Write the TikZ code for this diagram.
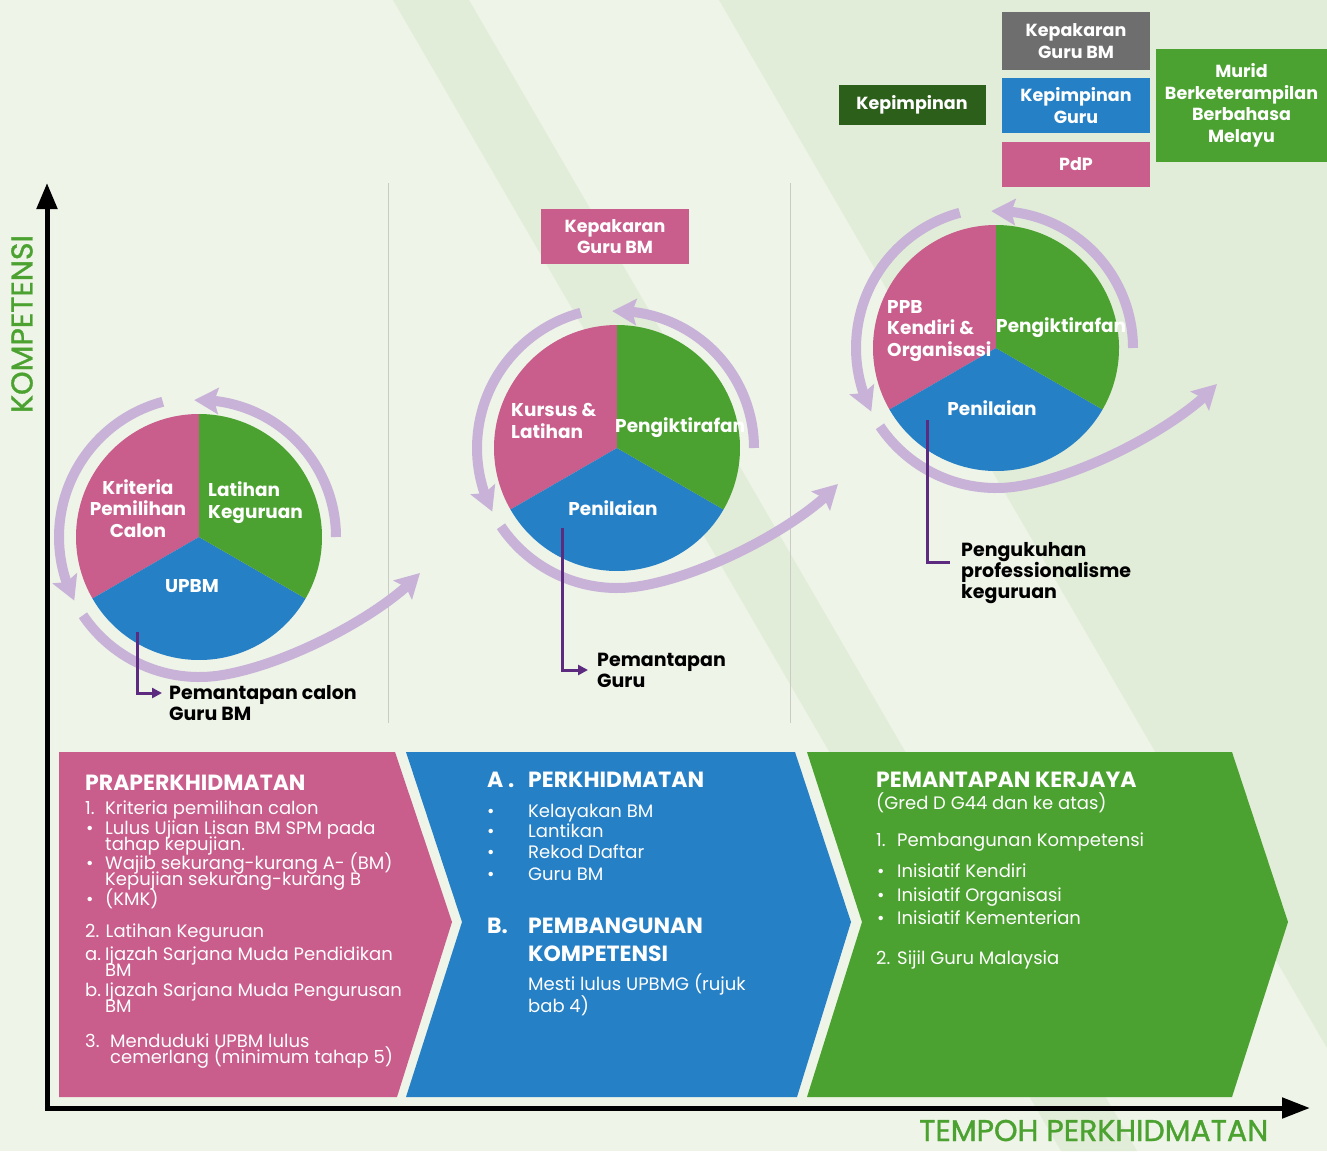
\documentclass[tikz,border=0pt]{standalone}
\usepackage{fontspec}
\setmainfont{Poppins}
\newfontfamily\axisfont[FakeBold=1.2]{Poppins}
\usetikzlibrary{arrows.meta, bending, positioning}
\definecolor{bgbase}{HTML}{EEF4E8}
\definecolor{bgband}{HTML}{E1EDD8}
\definecolor{pinkbm}{HTML}{C95D8C}
\definecolor{bluebm}{HTML}{2680C5}
\definecolor{greenbm}{HTML}{4CA230}
\definecolor{darkgreenbm}{HTML}{2C5F1A}
\definecolor{graybm}{HTML}{6E6E6E}
\definecolor{ringpurple}{HTML}{C8B2D8}
\definecolor{leadpurple}{HTML}{5C2A7E}
\definecolor{sepgray}{HTML}{C9CCC5}
\tikzstyle{ring} = [
    draw=ringpurple,
    line width=10pt,
    -{Stealth[length=24pt, width=26pt, inset=4pt, flex]}
]
\tikzstyle{leader} = [
    draw=leadpurple,
    line width=3pt
]
\tikzstyle{pielabel} = [
    text=white,
    inner sep=0pt,
    font=\fontsize{18.5}{21.5}\selectfont\bfseries
]
\tikzstyle{note} = [
    text=black,
    inner sep=0pt,
    anchor=base west,
    align=left,
    font=\fontsize{19}{21}\selectfont\bfseries
]
\tikzstyle{tagbox} = [
    text=white,
    inner sep=0pt,
    align=center,
    font=\fontsize{17.5}{21.5}\selectfont\bfseries
]
\tikzstyle{headtext} = [
    text=white,
    inner sep=0pt,
    anchor=base west,
    font=\fontsize{22}{26}\selectfont\bfseries
]
\tikzstyle{bodytext} = [
    text=white,
    inner sep=0pt,
    anchor=base west,
    font=\fontsize{18}{18}\selectfont
]
\tikzstyle{axislabel} = [
    text=greenbm,
    inner sep=0pt,
    font=\fontsize{30}{32}\axisfont
]
\begin{document}
\begin{tikzpicture}[x=1pt, y=-1pt]
        \useasboundingbox (0,0) rectangle (1327,1151);

        % Background
        \fill[bgbase] (0,0) rectangle (1327,1151);
        \fill[bgband] (393,0) -- (469,0) -- (1137,1151) -- (1061,1151) -- cycle;
        \fill[bgband] (719,0) -- (1327,0) -- (1327,1048) -- cycle;

        % Separators
        \draw[sepgray, line width=1pt] (388,183) -- (388,723);
        \draw[sepgray, line width=1pt] (790,183) -- (790,723);

        % Chevrons
        \fill[pinkbm] (59,752) -- (395,752) -- (452,922) -- (397,1097) -- (59,1097) -- cycle;
        \fill[bluebm] (406,752) -- (795,752) -- (851,922) -- (797,1097) -- (406,1097) -- (462,922) -- cycle;
        \fill[greenbm] (807,752) -- (1232,752) -- (1288,922) -- (1232,1097) -- (807,1097) -- (862,922) -- cycle;

        % Axes
        \coordinate (origin) at (47,1108);
        \coordinate (ytip) at (47,183);
        \coordinate (xtip) at (1310,1108);
        \draw[line width=5pt, {Triangle[length=26pt, width=20pt]}-{Triangle[length=28pt, width=20pt]}] (ytip) -- (origin) -- (xtip);
        \node[axislabel, rotate=90] (ylabel) at (22,324) {KOMPETENSI};
        \node[axislabel, anchor=base west] (xlabel) at (919,1141) {TEMPOH PERKHIDMATAN};

        % Pies and cycle arrows
        \foreach \cx/\cy/\n in {199/537/1, 617/448/2, 996/348/3} {
            \begin{scope}[shift={(\cx,\cy)}]
                \coordinate (pie\n) at (0,0);
                \fill[pinkbm] (0,0) -- (-90:123) arc[start angle=-90, end angle=-210, radius=123] -- cycle;
                \fill[bluebm] (0,0) -- (-210:123) arc[start angle=-210, end angle=-330, radius=123] -- cycle;
                \fill[greenbm] (0,0) -- (-330:123) arc[start angle=-330, end angle=-450, radius=123] -- cycle;
                \draw[ring] (-105:140) arc[start angle=-105, end angle=-207, radius=140];
                \draw[ring] (0:137) arc[start angle=0, end angle=-92, radius=137];
                \draw[ring] (-214:140) arc[start angle=-214, end angle=-280, radius=140]
                    .. controls +(70,-12) and (188,74) .. (221,36);
            \end{scope}
        }

        % Pie labels
        \node[pielabel, align=center, anchor=base] (critlabel) at (138,537) {Kriteria\\Pemilihan\\Calon};
        \node[pielabel, align=left, anchor=base west] (trainlabel) at (208,518) {Latihan\\Keguruan};
        \node[pielabel, anchor=base] (upbmlabel) at (192,592) {UPBM};
        \node[pielabel, align=left, anchor=base west] (courselabel) at (511,438) {Kursus \&\\Latihan};
        \node[pielabel, anchor=base west] (recoglabela) at (615,432) {Pengiktirafan};
        \node[pielabel, anchor=base] (assesslabela) at (613,515) {Penilaian};
        \node[pielabel, align=left, anchor=base west] (ppblabel) at (887,356) {PPB\\Kendiri \&\\Organisasi};
        \node[pielabel, anchor=base west] (recoglabelb) at (996,332) {Pengiktirafan};
        \node[pielabel, anchor=base] (assesslabelb) at (992,415) {Penilaian};

        % Leaders
        \coordinate (lead1) at (137,632);
        \coordinate (lead2) at (562,528);
        \coordinate (lead3) at (927,420);
        \node[note] (note1) at (169,720) {Pemantapan calon\\Guru BM};
        \node[note] (note2) at (597,687) {Pemantapan\\Guru};
        \node[note] (note3) at (961,598) {Pengukuhan\\professionalisme\\keguruan};
        \draw[leader, -{Triangle[length=10pt, width=10pt]}] (lead1) |- ([shift={(-7,-27)}]note1.base west);
        \draw[leader, -{Triangle[length=10pt, width=10pt]}] (lead2) |- ([shift={(-9,-17)}]note2.base west);
        \draw[leader] (lead3) |- ([shift={(-11,-36)}]note3.base west);

        % Top boxes
        \node[tagbox, fill=darkgreenbm, minimum width=147, minimum height=40] (leadbox) at (912,105) {Kepimpinan};
        \node[tagbox, fill=graybm, minimum width=148, minimum height=58] (expertbox) at (1076,41) {Kepakaran\\Guru BM};
        \node[tagbox, fill=bluebm, minimum width=148, minimum height=55] (teachbox) at (1076,105.5) {Kepimpinan\\Guru};
        \node[tagbox, fill=pinkbm, minimum width=148, minimum height=45] (pdpbox) at (1076,164.5) {PdP};
        \node[tagbox, fill=greenbm, minimum width=171, minimum height=113] (muridbox) at (1241.5,105.5) {Murid\\Berketerampilan\\Berbahasa\\Melayu};
        \node[tagbox, fill=pinkbm, minimum width=148, minimum height=55] (expertmid) at (615,236.5) {Kepakaran\\Guru BM};

        % Praperkhidmatan
        \node[headtext] (prehead) at (85,790) {PRAPERKHIDMATAN};
        \node[bodytext] (preno1) at (85,814) {1.};
        \node[bodytext] (pre1) at (105,814) {Kriteria pemilihan calon};
        \node[bodytext] (prebul1) at (86,834) {\textbullet};
        \node[bodytext] (pre2) at (105,834) {Lulus Ujian Lisan BM SPM pada};
        \node[bodytext] (pre2b) at (105,850) {tahap kepujian.};
        \node[bodytext] (prebul2) at (86,869) {\textbullet};
        \node[bodytext] (pre3) at (105,869) {Wajib sekurang-kurang A- (BM)};
        \node[bodytext] (pre3b) at (105,885) {Kepujian sekurang-kurang B};
        \node[bodytext] (prebul3) at (86,905) {\textbullet};
        \node[bodytext] (pre4) at (105,905) {(KMK)};
        \node[bodytext] (pre5) at (85,937) {2. Latihan Keguruan};
        \node[bodytext] (preno5a) at (85,960) {a.};
        \node[bodytext] (pre6) at (105,960) {Ijazah Sarjana Muda Pendidikan};
        \node[bodytext] (pre6b) at (105,976) {BM};
        \node[bodytext] (preno5b) at (85,996) {b.};
        \node[bodytext] (pre7) at (105,996) {Ijazah Sarjana Muda Pengurusan};
        \node[bodytext] (pre7b) at (105,1012) {BM};
        \node[bodytext] (preno3) at (85,1047) {3.};
        \node[bodytext] (pre8) at (110,1047) {Menduduki UPBM lulus};
        \node[bodytext] (pre8b) at (110,1063) {cemerlang (minimum tahap 5)};

        % Perkhidmatan
        \node[headtext] (servA) at (487,787) {A .};
        \node[headtext] (servhead) at (528,787) {PERKHIDMATAN};
        \foreach \yy/\txt/\k in {817/Kelayakan BM/1, 837/Lantikan/2, 858/Rekod Daftar/3, 880/Guru BM/4} {
            \node[bodytext] (servbul\k) at (487,\yy) {\textbullet};
            \node[bodytext] (serv\k) at (528,\yy) {\txt};
        }
        \node[headtext] (devB) at (487,933) {B.};
        \node[headtext] (devhead) at (528,933) {PEMBANGUNAN};
        \node[headtext] (devhead2) at (528,961) {KOMPETENSI};
        \node[bodytext] (dev1) at (528,990) {Mesti lulus UPBMG (rujuk};
        \node[bodytext] (dev1b) at (528,1012) {bab 4)};

        % Pemantapan kerjaya
        \node[headtext] (careerhead) at (876,787) {PEMANTAPAN KERJAYA};
        \node[bodytext] (career0) at (876,809) {(Gred D G44 dan ke atas)};
        \node[bodytext] (careerno1) at (876,846) {1.};
        \node[bodytext] (career1) at (897,846) {Pembangunan Kompetensi};
        \foreach \yy/\txt/\k in {877/Inisiatif Kendiri/1, 901/Inisiatif Organisasi/2, 924/Inisiatif Kementerian/3} {
            \node[bodytext] (careerbul\k) at (877,\yy) {\textbullet};
            \node[bodytext] (careerini\k) at (897,\yy) {\txt};
        }
        \node[bodytext] (careerno2) at (876,964) {2.};
        \node[bodytext] (career2) at (897,964) {Sijil Guru Malaysia};
    \end{tikzpicture}
\end{document}
